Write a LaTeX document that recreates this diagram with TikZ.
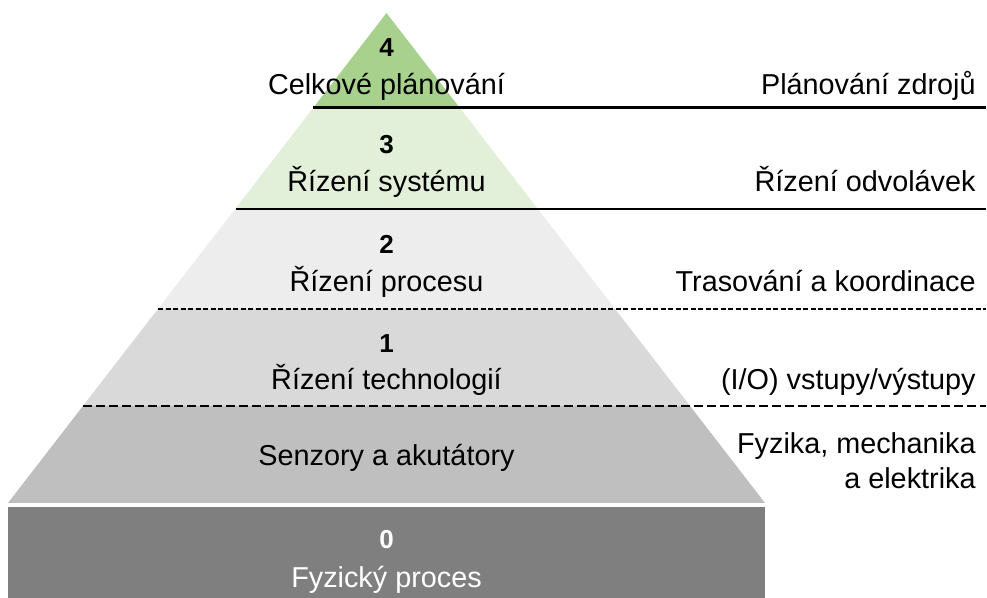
\documentclass[tikz,border=0pt]{standalone}
\usepackage{fontspec}
\setmainfont{Liberation Sans}
\usetikzlibrary{positioning}
\definecolor{lvfour}{HTML}{A9D18E}
\definecolor{lvthree}{HTML}{E2F0D9}
\definecolor{lvtwo}{HTML}{EDEDED}
\definecolor{lvone}{HTML}{D9D9D9}
\definecolor{lvsensor}{HTML}{BFBFBF}
\definecolor{lvzero}{HTML}{7F7F7F}
\tikzset{
levelnum/.style={anchor=base, inner sep=0pt, font=\fontsize{13}{15}\selectfont\bfseries}, % number of the level
levelname/.style={anchor=base, inner sep=0pt, font=\fontsize{14.4}{17}\selectfont}, % name inside the pyramid
sidetext/.style={anchor=base east, inner sep=0pt, font=\fontsize{14.4}{17.5}\selectfont}, % text in the right column
solidrule/.style={line width=1pt}, % border between the upper levels
dashrule/.style={line width=0.75pt, dash pattern=on 2.5pt off 1.25pt}, % border between the lower levels
}

\begin{document}
\begin{tikzpicture}[x=0.5pt, y=-0.5pt]
    \useasboundingbox (0,0) rectangle (987,598);
    \coordinate (apex) at (386.5,13);
    \coordinate (bl) at (8,503);
    \coordinate (br) at (765,503);
    % pyramid cut into bands
    \begin{scope}
        \clip (apex) -- (br) -- (bl) -- cycle;
        \fill[lvsensor] (0,406) rectangle (987,503);
        \fill[lvone] (0,309) rectangle (987,406);
        \fill[lvtwo] (0,209) rectangle (987,309);
        \fill[lvthree] (0,108) rectangle (987,209);
        \fill[lvfour] (0,0) rectangle (987,108);
    \end{scope}
    \fill[lvzero] (8,507) rectangle (765,598);
    % borders
    \draw[solidrule, line width=1.5pt] (313,108) -- (986,108);
    \draw[solidrule] (236,209) -- (986,209);
    \draw[dashrule] (158,309) -- (986,309);
    \draw[dashrule, dash pattern=on 4.5pt off 2pt] (83,406) -- (986,406);
    % levels
    \node[levelnum] (n4) at (386.5,57) {4};
    \node[levelname] (l4) at (386.5,95) {Celkové plánování};
    \node[levelnum] (n3) at (386.5,154) {3};
    \node[levelname] (l3) at (386.5,192) {Řízení systému};
    \node[levelnum] (n2) at (386.5,254) {2};
    \node[levelname] (l2) at (386.5,292) {Řízení procesu};
    \node[levelnum] (n1) at (386.5,353) {1};
    \node[levelname] (l1) at (386.5,390) {Řízení technologií};
    \node[levelname] (ls) at (386.5,466) {Senzory a akutátory};
    \node[levelnum, text=white] (n0) at (386.5,549) {0};
    \node[levelname, text=white] (l0) at (386.5,588) {Fyzický proces};
    % right column
    \node[sidetext] (r4) at (976,95) {Plánování zdrojů};
    \node[sidetext] (r3) at (976,192) {Řízení odvolávek};
    \node[sidetext] (r2) at (976,292) {Trasování a koordinace};
    \node[sidetext] (r1) at (976,390) {(I/O) vstupy/výstupy};
    \node[sidetext] (rs) at (976,454) {Fyzika, mechanika};
    \node[sidetext] (rs2) at (976,489) {a elektrika};
\end{tikzpicture}
\end{document}
